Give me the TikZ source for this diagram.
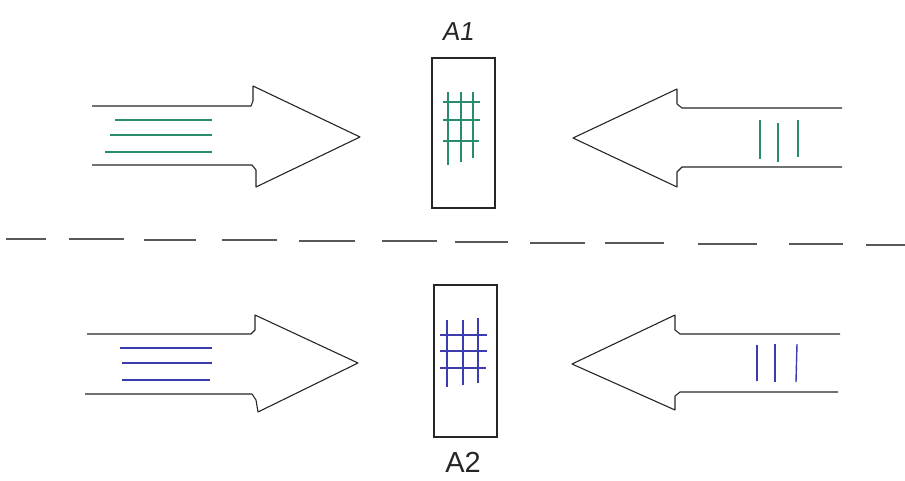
\documentclass[tikz,border=0pt]{standalone}
\usepackage{fontspec}
\setmainfont{Liberation Sans}
\definecolor{hgreen}{RGB}{40,140,110}
\definecolor{hblue}{RGB}{60,60,175}
\tikzset{
  outline/.style={line width=1.1pt, black!85, line join=round},
  boxstyle/.style={draw=black!85, line width=1.1pt, minimum width=63pt, minimum height=150pt, inner sep=0pt},
  greenstroke/.style={line width=1.5pt, hgreen},
  bluestroke/.style={line width=1.4pt, hblue},
  dashstroke/.style={line width=2pt, black!65},
  lbl/.style={font=\fontsize{26}{26}\selectfont, black!85}
}
\begin{document}
\begin{tikzpicture}[x=1pt,y=-1pt]
\useasboundingbox (0,0) rectangle (905,481);
% top-left arrow
\draw[outline] (92,106) -- (251,106) -- (253,101) -- (253,86) -- (360,137) -- (256,187) -- (256,170) -- (252,165) -- (92,165);
\draw[greenstroke] (115,120) -- (212,120);
\draw[greenstroke] (110,135) -- (212,135);
\draw[greenstroke] (105,152) -- (212,152);
% top-right arrow
\draw[outline] (842,108) -- (682,108) -- (677,104) -- (677,89) -- (573,138) -- (677,187) -- (677,172) -- (682,167) -- (842,167);
\draw[greenstroke] (760,120) -- (760,159);
\draw[greenstroke] (778,123) -- (778,162);
\draw[greenstroke] (798,120) -- (798,157);
% box A1
\node[boxstyle] (A1) at (463.5,133) {};
\node[lbl, xslant=0.15] (A1lbl) at (459,32) {A1};
\draw[greenstroke] (448,92) -- (448,165);
\draw[greenstroke] (461,92) -- (461,162);
\draw[greenstroke] (473,92) -- (473,158);
\draw[greenstroke] (443,102) -- (480,102);
\draw[greenstroke] (443,120) -- (480,120);
\draw[greenstroke] (443,141) -- (479,141);
% dashed divider
\foreach \a/\b/\yy in {6/46/239, 69/124/239.5, 144/196/240, 222/277/240.5, 299/355/241, 382/437/241.5, 455/508/242, 530/585/243, 605/664/243.5, 698/757/244, 789/843/244.5, 866/905/245}
  \draw[dashstroke] (\a,\yy) -- (\b,\yy);
% bottom-left arrow
\draw[outline] (87,334) -- (251,334) -- (255,330) -- (255,315) -- (358,363) -- (258,412) -- (256,400) -- (252,394) -- (85,394);
\draw[bluestroke] (120,348) -- (212,348);
\draw[bluestroke] (122,363) -- (212,363);
\draw[bluestroke] (122,380) -- (210,380);
% bottom-right arrow
\draw[outline] (840,334) -- (680,334) -- (675,330) -- (675,315) -- (572,364) -- (675,410) -- (675,396) -- (680,392) -- (838,392);
\draw[bluestroke] (757,345) -- (757,381);
\draw[bluestroke] (775,344) -- (775,382);
\draw[bluestroke] (797,344) -- (796,382);
% box A2
\node[boxstyle, minimum height=152pt] (A2) at (465.5,361) {};
\node[lbl, font=\fontsize{29}{29}\selectfont] (A2lbl) at (463,462) {A2};
\draw[bluestroke] (447,320) -- (447,387);
\draw[bluestroke] (463,320) -- (463,385);
\draw[bluestroke] (478,318) -- (478,383);
\draw[bluestroke] (440,335) -- (487,335);
\draw[bluestroke] (440,351) -- (487,351);
\draw[bluestroke] (440,368) -- (486,368);
\end{tikzpicture}
\end{document}
